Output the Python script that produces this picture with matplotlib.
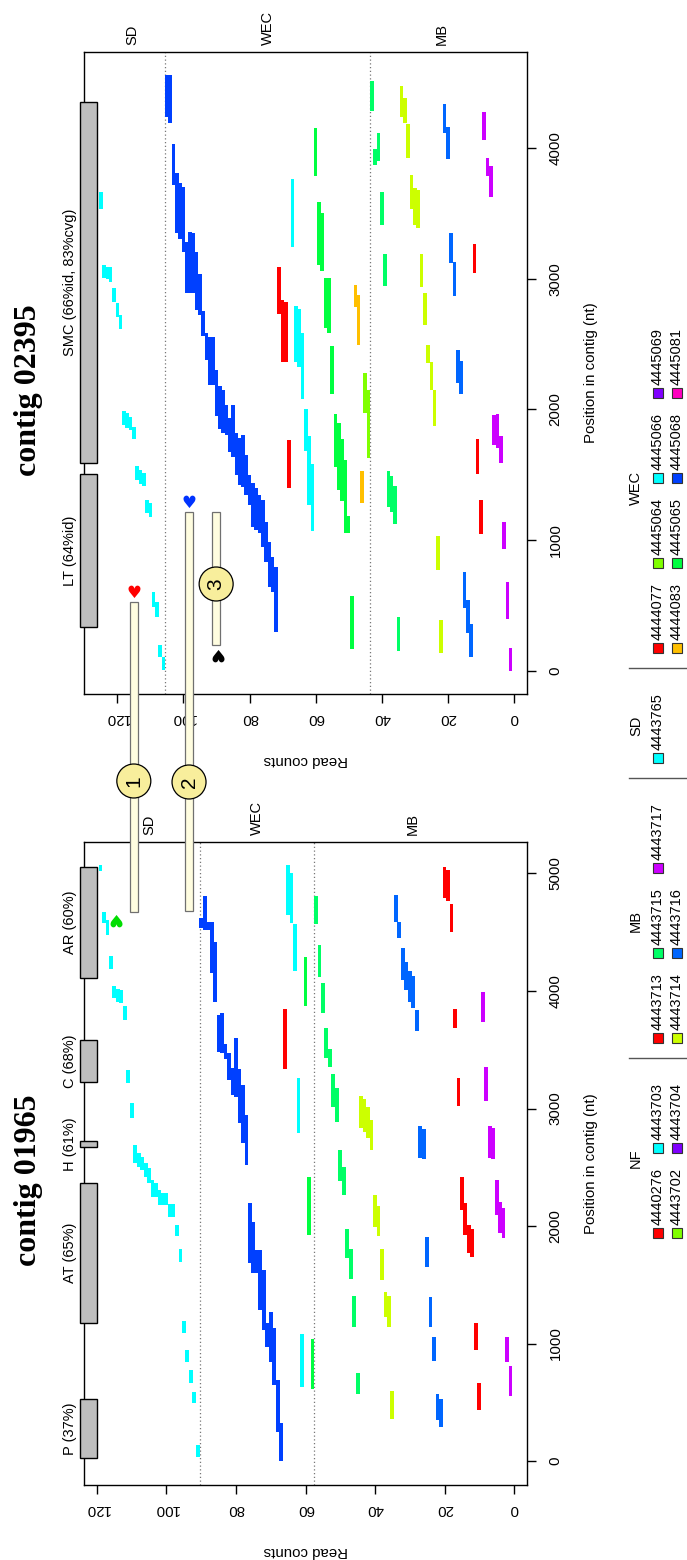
import matplotlib
matplotlib.use("Agg")
import matplotlib.pyplot as plt
from matplotlib.patches import Rectangle, Circle

plt.rcParams['font.family'] = ['Liberation Sans', 'DejaVu Sans']

W, H = 687, 1560

colors = {
    '4443765': '#00FFFF',
    '4440276': '#FF0000', '4443702': '#80FF00', '4443703': '#00FFFF', '4443704': '#8000FF',
    '4443713': '#FF0000', '4443714': '#CCFF00', '4443715': '#00FF66', '4443716': '#0066FF', '4443717': '#CC00FF',
    '4444077': '#FF0000', '4444083': '#FFBF00', '4445064': '#80FF00', '4445065': '#00FF40',
    '4445066': '#00FFFF', '4445068': '#0040FF', '4445069': '#8000FF', '4445081': '#FF00BF',
}

# ---- contig 02395 (top panel): one read per read-count level (level = index + 1)
top_sample = (['4443717'] * 9 + ['4443713'] * 3 + ['4443716'] * 9 + ['4443714'] * 13 + ['4443715'] * 9
              + ['4445064'] * 2 + ['4444083'] * 3 + ['4445065'] * 12 + ['4445066'] * 7 + ['4444077'] * 4
              + ['4445068'] * 34 + ['4443765'] * 20)
top_start = [0, 398, 933, 1591, 1706, 1728, 3625, 3786, 4061,
             1048, 1507, 3044,
             107, 291, 482, 2119, 2203, 2868, 3120, 3916, 4115,
             138, 773, 1874, 2149, 2356, 2646, 2937, 3388, 3411, 3533, 3923, 4191, 4237,
             153, 1124, 1216, 1254, 2944, 3411, 3900, 3870, 4283,
             1629, 1973,
             1285, 2493, 2784,
             168, 1055, 1055, 1300, 1384, 1560, 2119, 2585, 2623, 3059, 3105, 3786,
             1071, 1270, 1683, 2080, 2325, 2363, 3243,
             1400, 2363, 2363, 2730,
             298, 604, 642, 834, 948, 1055, 1080, 1101, 1270, 1346, 1407, 1420, 1499, 1637, 1675, 1805,
             1820, 1850, 1950, 2187, 2187, 2379, 2560, 2723, 2761, 2891, 2891, 2891, 3205, 3304, 3350,
             3717, 4191, 4237,
             8, 107, 413, 490, 1178, 1208, 1415, 1430, 1461, 1774, 1843, 1858, 1881, 2616, 2707, 2822,
             2975, 2998, 3006, 3533]
top_end = [176, 681, 1140, 1797, 1966, 1958, 3862, 3923, 4275,
           1308, 1774, 3266,
           360, 543, 757, 2371, 2455, 3128, 3350, 4160, 4336,
           390, 1032, 2149, 2363, 2493, 2891, 3189, 3679, 3694, 3793, 4183, 4382, 4474,
           413, 1415, 1491, 1530, 3189, 3663, 4115, 3992, 4512,
           2149, 2279,
           1530, 2876, 2952,
           574, 1185, 1614, 1774, 1897, 1966, 2486, 3006, 3006, 3503, 3587, 4153,
           1583, 1797, 2004, 2585, 2769, 2792, 3763,
           1767, 2822, 2837, 3090,
           795, 872, 987, 1140, 1308, 1346, 1400, 1438, 1499, 1652, 1805, 1780, 1820, 2034, 1935, 2034,
           2149, 2180, 2300, 2554, 2554, 2585, 2750, 3036, 3205, 3350, 3357, 3281, 3702, 3732, 3808,
           4030, 4558, 4558,
           107, 199, 528, 604, 1285, 1308, 1514, 1540, 1568, 1866, 1943, 1973, 1988, 2723, 2814, 2929,
           3090, 3090, 3105, 3663]

# ---- contig 01965 (bottom panel)
bot_sample = (['4443717'] * 9 + ['4443713'] * 11 + ['4443716'] * 14 + ['4443714'] * 10 + ['4443715'] * 13
              + ['4445065'] * 3 + ['4445066'] * 5 + ['4444077'] * 1 + ['4445068'] * 24
              + ['4443765'] * 29)
bot_start = [553, 842, 1898, 1940, 2093, 2570, 2579, 3064, 3736,
             434, 945, 1736, 1770, 1923, 2136, 3021, 3685, 4502, 4766, 4791,
             290, 349, 851, 1140, 1651, 2570, 2579, 3659, 3855, 3906, 4008, 4093, 4451, 4587,
             357, 1140, 1225, 1540, 1915, 1991, 2647, 2749, 2800, 2834,
             570, 1140, 1549, 1727, 2264, 2383, 2885, 3013, 3353, 3429, 3812, 4119, 4570,
             613, 1923, 3872,
             630, 2791, 4170, 4579, 4647,
             3336,
             0, 250, 647, 845, 973, 1115, 1285, 1600, 1600, 1685, 2519, 2706, 2876, 3098, 3115, 3242,
             3421, 3472, 3480, 3906, 4153, 4519, 4519, 4536,
             34, 493, 664, 842, 1089, 1693, 1915, 2077, 2077, 2179, 2179, 2179, 2247, 2247, 2366,
             2417, 2476, 2502, 2536, 2919, 3217, 3753, 3898, 3906, 3940, 4187, 4477, 4580, 5020]
bot_end = [808, 1055, 2153, 2204, 2391, 2834, 2851, 3353, 3991,
           664, 1175, 1974, 2008, 2195, 2417, 3259, 3846, 4740, 5030, 5055,
           528, 570, 1055, 1395, 1906, 2825, 2851, 3838, 4128, 4170, 4247, 4366, 4587, 4817,
           596, 1404, 1438, 1804, 2170, 2264, 2902, 3013, 3081, 3106,
           749, 1404, 1804, 1974, 2502, 2647, 3174, 3293, 3506, 3685, 4068, 4391, 4808,
           1038, 2417, 4289,
           1080, 3259, 4570, 5004, 5072,
           3846,
           321, 689, 1129, 1270, 1174, 1625, 1796, 1796, 2037, 2196, 2944, 3200, 3336, 3600, 3344, 3472,
           3549, 3812, 3800, 4417, 4587, 4587, 4808, 4621,
           136, 587, 774, 945, 1191, 1804, 2008, 2187, 2187, 2281, 2281, 2306, 2366, 2391, 2493,
           2536, 2587, 2621, 2689, 3047, 3328, 3872, 4008, 4017, 4043, 4298, 4604, 4672, 5075]

# gene annotations
top_genes = ['LT (64%id)', 'SMC (66%id, 83%cvg)']
top_gene_start = [337, 1591]
top_gene_end = [1507, 4352]
bot_genes = ['P (37%)', 'AT (65%)', 'H (61%)', 'C (68%)', 'AR (60%)']
bot_gene_start = [25, 1174, 2672, 3225, 4110]
bot_gene_end = [528, 2366, 2723, 3583, 5055]

# sample groups (lowest read-count level first)
group_names = ['MB', 'WEC', 'SD']
top_group_top = [43, 105, 125]
bot_group_top = [57, 90, 119]

# legend
leg_groups = ['NF', 'MB', 'SD', 'WEC']
leg_samples = [['4440276', '4443702', '4443703', '4443704'],
               ['4443713', '4443714', '4443715', '4443716', '4443717'],
               ['4443765'],
               ['4444077', '4444083', '4445064', '4445065', '4445066', '4445068', '4445069', '4445081']]


def px(x, y):
    return x / W, 1 - y / H


fig = plt.figure(figsize=(W / 100, H / 100), dpi=100)
fig.patch.set_facecolor('white')

ax_t = fig.add_axes([84 / W, 1 - 694 / H, 443 / W, 642 / H])
ax_b = fig.add_axes([84 / W, 1 - 1485 / H, 443 / W, 643 / H])


def draw_panel(ax, samples, starts, ends, genes, gstart, gend, gtop, xlim, ylim, yticks, gx, gw, title, ty):
    lv = list(range(1, len(samples) + 1))
    ax.bar(lv, [e - s for s, e in zip(starts, ends)], bottom=starts, width=1.08,
           color=[colors[s] for s in samples], linewidth=0, zorder=2)
    ax.set_xlim(*xlim)
    ax.set_ylim(*ylim)
    for b in gtop[:-1]:
        ax.axvline(b + 0.5, color='#777777', ls=(0, (1, 2)), lw=0.9, zorder=1)
    lo = 0
    for name, hi in zip(group_names, gtop):
        ax.annotate(name, xy=((lo + 1 + hi) / 2, 1), xycoords=('data', 'axes fraction'),
                    xytext=(0, 5), textcoords='offset points', rotation=90,
                    ha='center', va='bottom', fontsize=10.5)
        lo = hi
    ax.bar([gx] * len(genes), [e - s for s, e in zip(gstart, gend)], bottom=gstart, width=gw,
           color='#BEBEBE', edgecolor='black', linewidth=1, zorder=5, clip_on=False)
    for g, s, e in zip(genes, gstart, gend):
        ax.text(gx + gw / 2 + 2.9 * gw / 5, (s + e) / 2, g, rotation=90, ha='center', va='center',
                fontsize=10.5, clip_on=False)
    ax.set_xticks([0, 20, 40, 60, 80, 100, 120])
    ax.set_yticks(yticks)
    ax.yaxis.tick_right()
    ax.tick_params(axis='x', labelrotation=180, length=6.5, width=1, pad=6, labelsize=10.8)
    ax.tick_params(axis='y', labelrotation=90, length=6.5, width=1, pad=9, labelsize=10.8)
    for lab in ax.get_yticklabels():
        lab.set_va('center')
    for sp in ax.spines.values():
        sp.set_linewidth(1)
    ax.text(0.5, -0.1026, 'Read counts', transform=ax.transAxes, rotation=180,
            ha='center', va='center', fontsize=10.8)
    ax.text(1.1445, 0.5, 'Position in contig (nt)', transform=ax.transAxes, rotation=90,
            ha='center', va='center', fontsize=10.8)
    ax.text(-0.1264, ty, title, transform=ax.transAxes, rotation=90, ha='center', va='center',
            fontsize=23, fontweight='bold', family='Liberation Serif')


draw_panel(ax_t, top_sample, top_start, top_end, top_genes, top_gene_start, top_gene_end,
           top_group_top, (130.07, -3.93), (-176, 4734), [0, 1000, 2000, 3000, 4000], 128.7, 5.1,
           'contig 02395', 0.4735)
draw_panel(ax_b, bot_sample, bot_start, bot_end, bot_genes, bot_gene_start, bot_gene_end,
           bot_group_top, (123.74, -3.74), (-204, 5268), [0, 1000, 2000, 3000, 4000, 5000], 122.45, 4.9,
           'contig 01965', 0.4743)

# ---- callouts linking the panels: (x in top-panel counts, top end, bottom end)
fig.canvas.draw()


def to_px(ax, x, y):
    dx, dy = ax.transData.transform((x, y))
    return dx, H - dy


call_x = [115.0, 98.3, 90.1]
call_top_pos = [528, 1216, 1216]
call_bot = [('b', 4672), ('b', 4680), ('t', 199)]
call_circle_y = [781, 782, 584]
call_heart_col = ['#FF0000', '#0033FF', 'black']

for i, (cx, tp, (pn, bp), cy, hc) in enumerate(zip(call_x, call_top_pos, call_bot, call_circle_y, call_heart_col)):
    x0, y0 = to_px(ax_t, cx, tp)
    yb = to_px(ax_b if pn == 'b' else ax_t, cx, bp)[1]
    r = Rectangle(px(x0 - 4, yb), 8 / W, (yb - y0) / H, transform=fig.transFigure,
                  facecolor='#FFFDE0', edgecolor='#707070', lw=0.9, zorder=10)
    fig.add_artist(r)
    c = Circle((x0 / 100, (H - cy) / 100), 0.17, transform=fig.dpi_scale_trans,
               facecolor='#F8EE9C', edgecolor='black', lw=0.9, zorder=11)
    fig.add_artist(c)
    fig.text(*px(x0, cy), str(i + 1), rotation=90, ha='center', va='center', fontsize=15, zorder=12)
    if i < 2:
        fig.text(*px(x0, y0 - 9), '\u2665', color=hc, ha='center', va='center', fontsize=12,
                 family='DejaVu Sans', zorder=12)
    else:
        fig.text(*px(x0, yb + 8), '\u2665', color=hc, ha='center', va='center', fontsize=12,
                 rotation=180, family='DejaVu Sans', zorder=12)

# green marker inside bottom panel
gxp, gyp = to_px(ax_b, 115.1, 4621)
fig.text(*px(gxp, gyp), '\u2665', color='#00DD00', ha='center', va='center', fontsize=12,
         rotation=180, family='DejaVu Sans', zorder=12)

# ---- legend (rotated, at the right edge): columns of two entries, groups split by rules
col_step, gap = 85, 20
y = 1233
rules = []
for gi, (g, smp) in enumerate(zip(leg_groups, leg_samples)):
    ncol = (len(smp) + 1) // 2
    first = y
    for k, s in enumerate(smp):
        cy = first - col_step * (k // 2)
        rx = 658 if k % 2 == 0 else 677
        fig.add_artist(Rectangle(px(rx - 5, cy + 5), 10 / W, 10 / H, transform=fig.transFigure,
                                 facecolor=colors[s], edgecolor='#333333', lw=0.8))
        fig.text(*px(rx, cy - 8), s, rotation=90, ha='center', va='bottom', fontsize=10.5)
    text_end = first - col_step * (ncol - 1) - 70
    fig.text(*px(636, (first + 5 + text_end) / 2), g, rotation=90, ha='center', va='center', fontsize=10.5)
    rules.append(text_end - gap)
    y = text_end - 2 * gap
for sy in rules[:-1]:
    fig.add_artist(plt.Line2D([629 / W, 686 / W], [1 - sy / H] * 2, transform=fig.transFigure,
                              color='#555555', lw=1))

fig.savefig('out.png', dpi=100)
